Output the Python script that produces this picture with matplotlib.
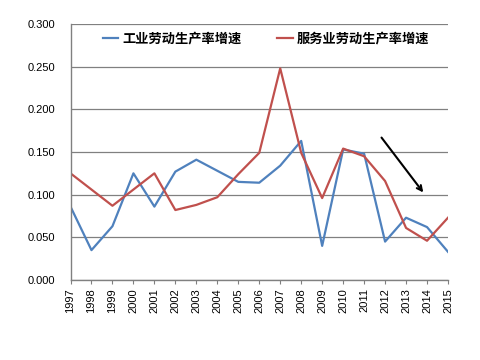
import matplotlib
matplotlib.use("Agg")
import matplotlib.pyplot as plt

years = list(range(1997, 2016))
industry = [0.086, 0.035, 0.063, 0.125, 0.086, 0.127, 0.141, 0.128, 0.115, 0.114,
            0.134, 0.163, 0.040, 0.153, 0.148, 0.045, 0.073, 0.062, 0.033]
services = [0.125, 0.106, 0.087, 0.106, 0.125, 0.082, 0.088, 0.097, 0.124, 0.149,
            0.248, 0.149, 0.096, 0.154, 0.145, 0.116, 0.061, 0.046, 0.073]
label_ind = "工业劳动生产率增速"
label_srv = "服务业劳动生产率增速"
yticks = [0.0, 0.05, 0.10, 0.15, 0.20, 0.25, 0.30]

plt.rcParams['font.family'] = ['Liberation Sans', 'DejaVu Sans']

fig = plt.figure(figsize=(4.8, 3.6), dpi=100)
ax = fig.add_axes([70.5/480, 1-280/360, (448-70.5)/480, (280-24)/360])

ax.plot(years, industry, color='#4F81BD', lw=1.6, label=label_ind)
ax.plot(years, services, color='#C0504D', lw=1.6, label=label_srv)

ax.set_xlim(1997, 2015)
ax.set_ylim(0, 0.3)
ax.set_yticks(yticks)
ax.set_yticklabels([f"{v:.3f}" for v in yticks], fontsize=8)
ax.set_xticks(years)
ax.set_xticklabels([str(y) for y in years], rotation=90, fontsize=8)
ax.grid(axis='y', color='#808080', lw=0.9)
ax.set_axisbelow(True)
for s in ['top', 'right']:
    ax.spines[s].set_visible(False)
for s in ['left', 'bottom']:
    ax.spines[s].set_color('#808080')
    ax.spines[s].set_linewidth(1.0)
ax.tick_params(axis='y', length=0, pad=11)
ax.tick_params(axis='x', length=3, color='#808080', pad=3, direction='out')

ax.annotate('', xy=(2013.9, 0.1), xytext=(2011.75, 0.1695),
            arrowprops=dict(arrowstyle='->', color='black', lw=1.5, mutation_scale=9))

leg = ax.legend(loc='upper center', bbox_to_anchor=(0.518, 1.0), ncol=2, frameon=False,
                prop={'family': ['Noto Sans CJK SC', 'DejaVu Sans'], 'size': 9.5, 'weight': 'bold'},
                handlelength=1.2, handletextpad=0.3, columnspacing=2.7, borderaxespad=0.2)

fig.savefig('out.png', dpi=100)
